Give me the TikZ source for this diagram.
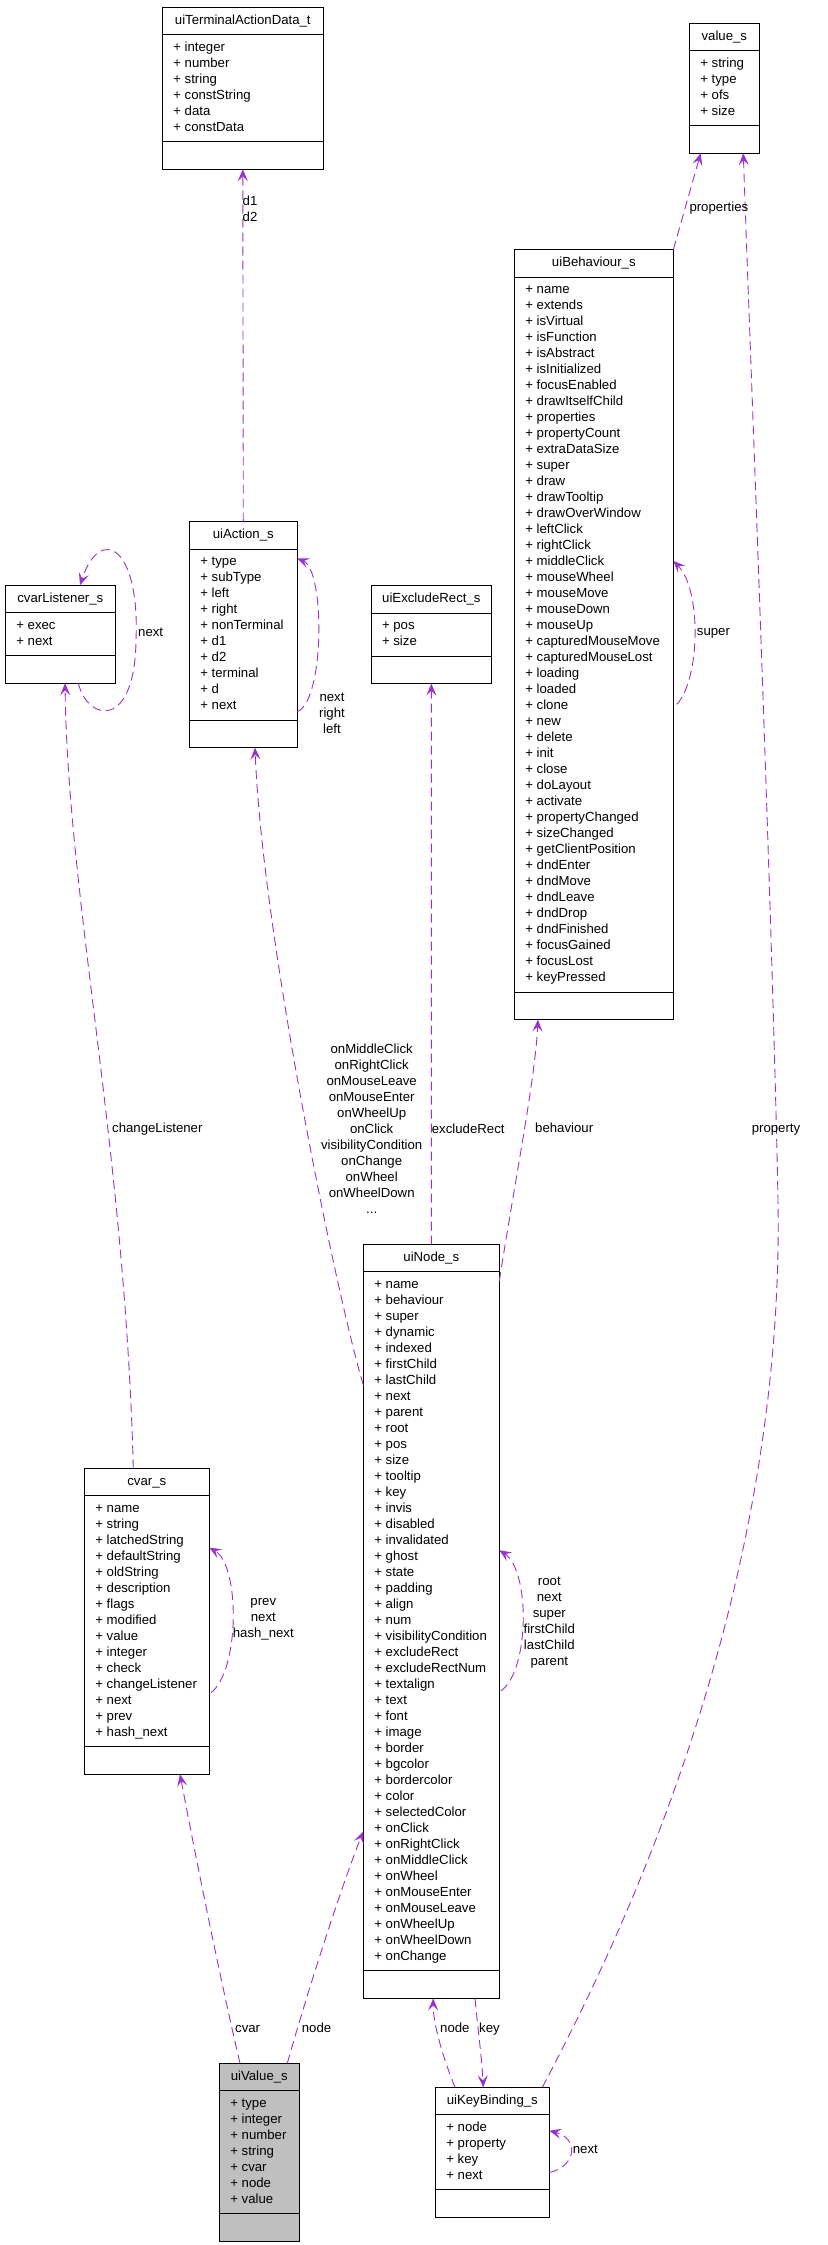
\documentclass[tikz,border=0pt]{standalone}
\usepackage{fontspec}
\setmainfont{Liberation Sans}
\usetikzlibrary{arrows.meta,shapes.multipart}

\definecolor{edgepurple}{HTML}{9A32CD}
\definecolor{valgray}{HTML}{BFBFBF}
\newcommand{\hd}{\rule[-5pt]{0pt}{16.5pt}}
\newcommand{\ft}{\rule{0pt}{16.7pt}}

\begin{document}
\begin{tikzpicture}[x=1pt,y=-1pt,
  font=\fontsize{13.2}{16}\selectfont,
  cls/.style={draw,line width=0.9pt,fill=white,rectangle split,rectangle split parts=3,
    rectangle split part align={center,left,left},align=left,
    inner xsep=11pt,inner ysep=5pt,outer sep=0pt,anchor=north west},
  dep/.style={draw=edgepurple,line width=0.9pt,dash pattern=on 9pt off 5pt,
    -{Stealth[length=12pt,width=10pt,inset=5pt]}},
  lbl/.style={inner sep=0pt,execute at begin node=\strut,execute at end node=\strut}]

\path[use as bounding box,fill=white] (0,0) rectangle (827,2245);

\node[cls,minimum width=161pt] (tad) at (162.3,7.3)
  {\hd uiTerminalActionData\_t
   \nodepart{two}\strut+ integer\\+ number\\+ string\\+ constString\\+ data\\+ constData\strut
   \nodepart{three}\ft};
\node[cls,minimum width=70pt] (val) at (689.3,23.3)
  {\hd value\_s
   \nodepart{two}\strut+ string\\+ type\\+ ofs\\+ size\strut
   \nodepart{three}\ft};
\node[cls,minimum width=159pt] (beh) at (514.3,249.7)
  {\hd uiBehaviour\_s
   \nodepart{two}\strut+ name\\+ extends\\+ isVirtual\\+ isFunction\\+ isAbstract\\+ isInitialized\\
   + focusEnabled\\+ drawItselfChild\\+ properties\\+ propertyCount\\+ extraDataSize\\+ super\\
   + draw\\+ drawTooltip\\+ drawOverWindow\\+ leftClick\\+ rightClick\\+ middleClick\\
   + mouseWheel\\+ mouseMove\\+ mouseDown\\+ mouseUp\\+ capturedMouseMove\\+ capturedMouseLost\\
   + loading\\+ loaded\\+ clone\\+ new\\+ delete\\+ init\\+ close\\+ doLayout\\+ activate\\
   + propertyChanged\\+ sizeChanged\\+ getClientPosition\\+ dndEnter\\+ dndMove\\+ dndLeave\\
   + dndDrop\\+ dndFinished\\+ focusGained\\+ focusLost\\+ keyPressed\strut
   \nodepart{three}\ft};
\node[cls,minimum width=110pt] (cvl) at (5.3,585.3)
  {\hd cvarListener\_s
   \nodepart{two}\strut+ exec\\+ next\strut
   \nodepart{three}\ft};
\node[cls,minimum width=108pt] (act) at (189.3,521.7)
  {\hd uiAction\_s
   \nodepart{two}\strut+ type\\+ subType\\+ left\\+ right\\+ nonTerminal\\+ d1\\+ d2\\
   + terminal\\+ d\\+ next\strut
   \nodepart{three}\ft};
\node[cls,minimum width=120.7pt] (exr) at (371,585.7)
  {\hd uiExcludeRect\_s
   \nodepart{two}\strut+ pos\\+ size\strut
   \nodepart{three}\ft};
\node[cls,minimum width=136pt] (nod) at (363.3,1244.5)
  {\hd uiNode\_s
   \nodepart{two}\strut+ name\\+ behaviour\\+ super\\+ dynamic\\+ indexed\\+ firstChild\\
   + lastChild\\+ next\\+ parent\\+ root\\+ pos\\+ size\\+ tooltip\\+ key\\+ invis\\
   + disabled\\+ invalidated\\+ ghost\\+ state\\+ padding\\+ align\\+ num\\
   + visibilityCondition\\+ excludeRect\\+ excludeRectNum\\+ textalign\\+ text\\+ font\\
   + image\\+ border\\+ bgcolor\\+ bordercolor\\+ color\\+ selectedColor\\+ onClick\\
   + onRightClick\\+ onMiddleClick\\+ onWheel\\+ onMouseEnter\\+ onMouseLeave\\
   + onWheelUp\\+ onWheelDown\\+ onChange\strut
   \nodepart{three}\ft};
\node[cls,minimum width=125pt] (cvr) at (84.3,1468.3)
  {\hd cvar\_s
   \nodepart{two}\strut+ name\\+ string\\+ latchedString\\+ defaultString\\+ oldString\\
   + description\\+ flags\\+ modified\\+ value\\+ integer\\+ check\\+ changeListener\\
   + next\\+ prev\\+ hash\_next\strut
   \nodepart{three}\ft};
\node[cls,minimum width=80pt,fill=valgray] (uvl) at (219.3,2063.3)
  {\hd uiValue\_s
   \nodepart{two}\strut+ type\\+ integer\\+ number\\+ string\\+ cvar\\+ node\\+ value\strut
   \nodepart{three}\ft};
\node[cls,minimum width=114pt] (kb) at (435.3,2087.3)
  {\hd uiKeyBinding\_s
   \nodepart{two}\strut+ node\\+ property\\+ key\\+ next\strut
   \nodepart{three}\ft};

% top row
\draw[dep] (act.north) -- (tad.south);
\draw[dep] (beh.north east) -- ([xshift=11.4pt]val.south west);
\draw[dep] ([xshift=-7pt]kb.north east) .. controls (620,1940) and (785,1600) .. (778,1200)
  .. controls (772,900) and (750,350) .. ([xshift=-16pt]val.south east);
\node[lbl,anchor=west,align=left] (l-d) at (242.5,211) {d1\\d2};
\node[lbl,anchor=west] (l-props) at (689.3,208) {properties};
\node[lbl] (l-prop) at (776,1129) {property};

% self loops
\draw[dep] ([shift={(3.4,454.7)}]beh.north east) .. controls (700,680) and (702,590)
  .. ([shift={(0,311.2)}]beh.north east);
\node[lbl,anchor=west] (l-super) at (696.7,632.6) {super};
\draw[dep] ([xshift=18pt]cvl.south) .. controls (88,722) and (135,730) .. (136,640)
  .. controls (140,545) and (100,525) .. ([xshift=19.7pt]cvl.north);
\node[lbl,anchor=west] (l-cvl) at (138,633) {next};
\draw[dep] ([shift={(0,190)}]act.north east) .. controls (325,700) and (325,570)
  .. ([shift={(0,36.6)}]act.north east);
\node[lbl,align=center] (l-act) at (332,716) {next\\right\\left};
\draw[dep] ([shift={(1.7,224.4)}]cvr.north east) .. controls (240,1670) and (240,1565)
  .. ([shift={(0,79.4)}]cvr.north east);
\node[lbl,align=center] (l-cvr) at (263.3,1620) {prev\\next\\hash\_next};
\draw[dep] ([shift={(1.7,446.3)}]nod.north east) .. controls (530,1670) and (530,1570)
  .. ([shift={(0,305.7)}]nod.north east);
\node[lbl,align=center] (l-nod) at (549.3,1624) {root\\next\\super\\firstChild\\lastChild\\parent};
\draw[dep] ([shift={(0,85.4)}]kb.north east) .. controls (578,2165) and (578,2138)
  .. ([shift={(0,43.4)}]kb.north east);
\node[lbl,anchor=west] (l-kb) at (572.7,2150.7) {next};

% long edges
\draw[dep] ([xshift=-13.5pt]cvr.north) .. controls (125,1150) and (68,900) .. ([xshift=4.7pt]cvl.south);
\node[lbl,anchor=west] (l-chg) at (112,1129) {changeListener};
\draw[dep] ([shift={(0,140.5)}]nod.north west) .. controls (335,1290) and (262,930)
  .. ([xshift=11.7pt]act.south);
\node[lbl,align=center] (l-on) at (371.7,1130.7)
  {onMiddleClick\\onRightClick\\onMouseLeave\\onMouseEnter\\onWheelUp\\onClick\\
   visibilityCondition\\onChange\\onWheel\\onWheelDown\\...};
\draw[dep] (nod.north) -- (exr.south);
\node[lbl,anchor=west] (l-exr) at (431.7,1130.7) {excludeRect};
\draw[dep] ([shift={(0,36.5)}]nod.north east) .. controls (515,1180) and (535,1080)
  .. ([xshift=-55.8pt]beh.south);
\node[lbl,anchor=west] (l-beh) at (535,1129) {behaviour};

% bottom row
\draw[dep] ([xshift=-19.3pt]uvl.north) .. controls (225,2000) and (200,1880) .. ([xshift=33.2pt]cvr.south);
\node[lbl,anchor=west] (l-cvar) at (235,2029) {cvar};
\draw[dep] ([xshift=28pt]uvl.north) .. controls (305,2000) and (340,1890)
  .. ([shift={(0,586.9)}]nod.north west);
\node[lbl,anchor=west] (l-unode) at (301.7,2029) {node};
\draw[dep] ([xshift=19.7pt]kb.north west) .. controls (440,2050) and (433,2020) .. ([xshift=2pt]nod.south);
\node[lbl,anchor=west] (l-knode) at (440,2029) {node};
\draw[dep] ([xshift=43.7pt]nod.south) .. controls (478,2030) and (482,2060) .. ([xshift=48pt]kb.north west);
\node[lbl,anchor=west] (l-key) at (479,2029) {key};
\end{tikzpicture}
\end{document}
